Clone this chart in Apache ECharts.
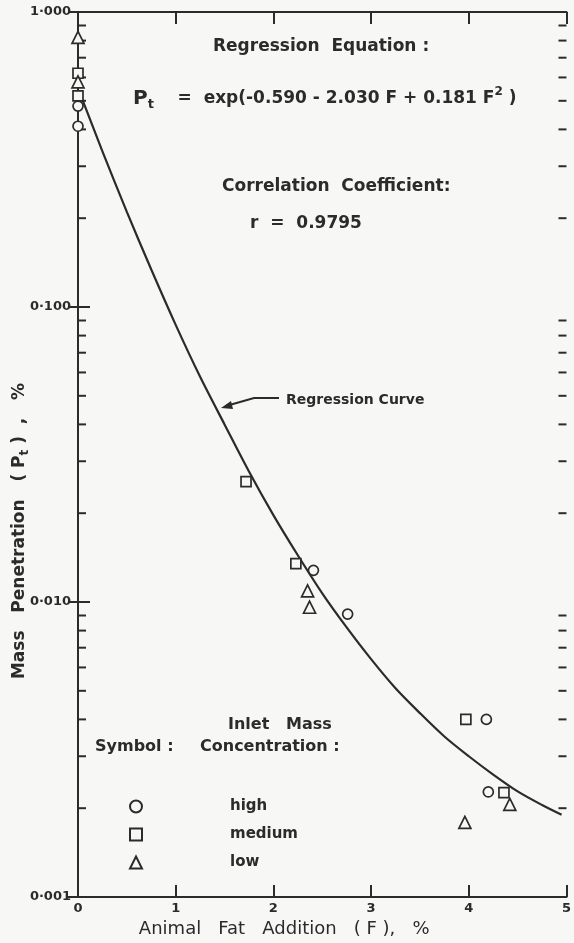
<!DOCTYPE html>
<html>
<head>
<meta charset="utf-8">
<script src="https://cdn.jsdelivr.net/npm/echarts@6/dist/echarts.min.js"></script>
<style>
html,body{margin:0;padding:0;background:#f7f7f5;}
#chart{width:574px;height:943px;}
</style>
</head>
<body>
<div id="chart"></div>
<script>
// ---- data ----
var xTickLabels = ['0', '1', '2', '3', '4', '5'];
var yTickLabels = {'0.001': '0·001', '0.01': '0·010', '0.1': '0·100', '1': '1·000'};

var highF = [0, 0, 2.41, 2.76, 4.18, 4.20];
var highPt = [0.48, 0.41, 0.0128, 0.0091, 0.0040, 0.00227];

var mediumF = [0, 0, 1.72, 2.23, 3.97, 4.36];
var mediumPt = [0.62, 0.52, 0.0256, 0.0135, 0.0040, 0.00226];

var lowF = [0, 0, 2.35, 2.37, 3.96, 4.42];
var lowPt = [0.82, 0.58, 0.0109, 0.0096, 0.00179, 0.00206];

// regression curve as drawn in the picture
var curveF = [0.05, 0.25, 0.5, 0.75, 1.0, 1.25, 1.5, 1.75, 2.0, 2.25, 2.5, 2.75, 3.0, 3.25, 3.5, 3.75, 4.0, 4.25, 4.5, 4.75, 4.95];
var curvePt = [0.50, 0.337, 0.210, 0.134, 0.087, 0.058, 0.040, 0.0277, 0.0197, 0.0144, 0.0107, 0.0082, 0.0064, 0.0051, 0.0042, 0.0035, 0.0030, 0.0026, 0.00228, 0.00205, 0.0019];

var minorTicks = [0.002,0.003,0.004,0.005,0.006,0.007,0.008,0.009,
                  0.02,0.03,0.04,0.05,0.06,0.07,0.08,0.09,
                  0.2,0.3,0.4,0.5,0.6,0.7,0.8,0.9];

function zip(a, b) { return a.map(function (v, i) { return [v, b[i]]; }); }

var INK = '#2b2b2b';
var BG = '#f7f7f5';
var FONT = 'DejaVu Sans';

var chart = echarts.init(document.getElementById('chart'), null, {renderer: 'canvas'});

var markerStyle = {color: BG, borderColor: INK, borderWidth: 1.7, opacity: 1};

var option = {
  backgroundColor: BG,
  animation: false,
  textStyle: {fontFamily: FONT, color: INK, fontWeight: 'bold'},
  grid: {left: 78, right: 5, top: 12, bottom: 38},
  xAxis: [{
    type: 'value', min: 0, max: 5, interval: 1,
    axisLine: {lineStyle: {color: INK, width: 2}},
    axisTick: {inside: true, length: 12, lineStyle: {color: INK, width: 2}},
    axisLabel: {margin: 5, fontSize: 13, fontWeight: 'bold', color: INK,
      formatter: function (v) { return xTickLabels[Math.round(v)]; }},
    splitLine: {show: false},
    name: 'Animal   Fat   Addition   ( F ),   %', nameLocation: 'middle', nameGap: 23,
    nameTextStyle: {fontSize: 18, fontWeight: 'normal', color: INK, fontFamily: FONT, padding: [0, 76, 0, 0]}
  }, {
    type: 'value', min: 0, max: 5, interval: 1, position: 'top',
    axisLine: {lineStyle: {color: INK, width: 2}},
    axisTick: {inside: true, length: 12, lineStyle: {color: INK, width: 2}},
    axisLabel: {show: false}, splitLine: {show: false}
  }],
  yAxis: [{
    type: 'log', min: 0.001, max: 1, logBase: 10,
    axisLine: {lineStyle: {color: INK, width: 2}},
    axisTick: {inside: true, length: 12, lineStyle: {color: INK, width: 2}},
    axisLabel: {margin: 7, fontSize: 13, fontWeight: 'bold', color: INK,
      formatter: function (v) {
        var k = String(+v.toPrecision(3));
        return yTickLabels[k] || '';
      }},
    splitLine: {show: false}
  }, {
    type: 'log', min: 0.001, max: 1, logBase: 10, position: 'right',
    axisLine: {lineStyle: {color: INK, width: 2}},
    axisTick: {inside: true, length: 10, lineStyle: {color: INK, width: 2}},
    axisLabel: {show: false}, splitLine: {show: false}
  }],
  legend: {
    data: ['high', 'medium', 'low'],
    orient: 'vertical', left: 129, top: 799, padding: 0,
    itemWidth: 12, itemHeight: 12, itemGap: 13,
    textStyle: {fontSize: 15, fontWeight: 'bold', color: INK, fontFamily: FONT, padding: [0, 0, 0, 83]}
  },
  series: [{
    name: 'curve', type: 'line', smooth: 0.3, showSymbol: false, symbol: 'none',
    data: zip(curveF, curvePt), lineStyle: {color: INK, width: 2.2}, z: 3
  }, {
    name: 'high', type: 'scatter', symbol: 'circle', symbolSize: 10,
    data: zip(highF, highPt), itemStyle: markerStyle, z: 4
  }, {
    name: 'medium', type: 'scatter', symbol: 'rect', symbolSize: 10,
    data: zip(mediumF, mediumPt), itemStyle: markerStyle, z: 4
  }, {
    name: 'low', type: 'scatter', symbol: 'triangle', symbolSize: 12,
    data: zip(lowF, lowPt), itemStyle: markerStyle, z: 4
  }, {
    name: 'minorTicks', type: 'custom',
    data: minorTicks.map(function (v) { return [0, v]; }),
    renderItem: function (params, api) {
      var v = api.value(1);
      var l = api.coord([0, v]);
      var r = api.coord([5, v]);
      var st = {stroke: INK, lineWidth: 2};
      return {type: 'group', children: [
        {type: 'line', shape: {x1: l[0], y1: l[1], x2: l[0] + 8, y2: l[1]}, style: st},
        {type: 'line', shape: {x1: r[0] - 8, y1: r[1], x2: r[0], y2: r[1]}, style: st}
      ]};
    },
    silent: true, z: 2
  }],
  graphic: [
    {type: 'text', left: 213, top: 38, style: {text: 'Regression  Equation :', font: 'bold 17px "DejaVu Sans"', fill: INK}},
    {type: 'text', left: 133, top: 86, style: {
      text: '{p|P}{s|t}    =  exp(-0.590 - 2.030 F + 0.181 F{u|2} )',
      font: 'bold 17px "DejaVu Sans"', fill: INK,
      rich: {
        p: {font: 'bold 20px "DejaVu Sans"', fill: INK},
        s: {font: 'bold 13px "DejaVu Sans"', fill: INK, verticalAlign: 'bottom', padding: [12, 0, 0, 0]},
        u: {font: 'bold 12px "DejaVu Sans"', fill: INK, verticalAlign: 'top', padding: [0, 0, 8, 0]}
      }}},
    {type: 'text', left: 222, top: 178, style: {text: 'Correlation  Coefficient:', font: 'bold 17px "DejaVu Sans"', fill: INK}},
    {type: 'text', left: 250, top: 215, style: {text: 'r  =  0.9795', font: 'bold 17px "DejaVu Sans"', fill: INK}},
    {type: 'text', left: 286, top: 393, style: {text: 'Regression Curve', font: 'bold 14px "DejaVu Sans"', fill: INK}},
    {type: 'polyline', shape: {points: [[279, 398], [254, 398], [226, 406]]}, style: {stroke: INK, lineWidth: 2, fill: null}},
    {type: 'polygon', shape: {points: [[221, 408], [231, 401], [233, 409]]}, style: {fill: INK}},
    {type: 'text', left: 228, top: 717, style: {text: 'Inlet   Mass', font: 'bold 16px "DejaVu Sans"', fill: INK}},
    {type: 'text', left: 95, top: 739, style: {text: 'Symbol :', font: 'bold 16px "DejaVu Sans"', fill: INK}},
    {type: 'text', left: 200, top: 739, style: {text: 'Concentration :', font: 'bold 16px "DejaVu Sans"', fill: INK}},
    {type: 'text', x: 20, y: 531, rotation: Math.PI / 2, style: {
      text: 'Mass   Penetration   ( P{s|t} )  ,   %', font: 'bold 17px "DejaVu Sans"', fill: INK,
      align: 'center', verticalAlign: 'middle',
      rich: {s: {font: 'bold 12px "DejaVu Sans"', fill: INK, verticalAlign: 'bottom', padding: [9, 0, 0, 0]}}
    }}
  ]
};
chart.setOption(option);
</script>
</body>
</html>
